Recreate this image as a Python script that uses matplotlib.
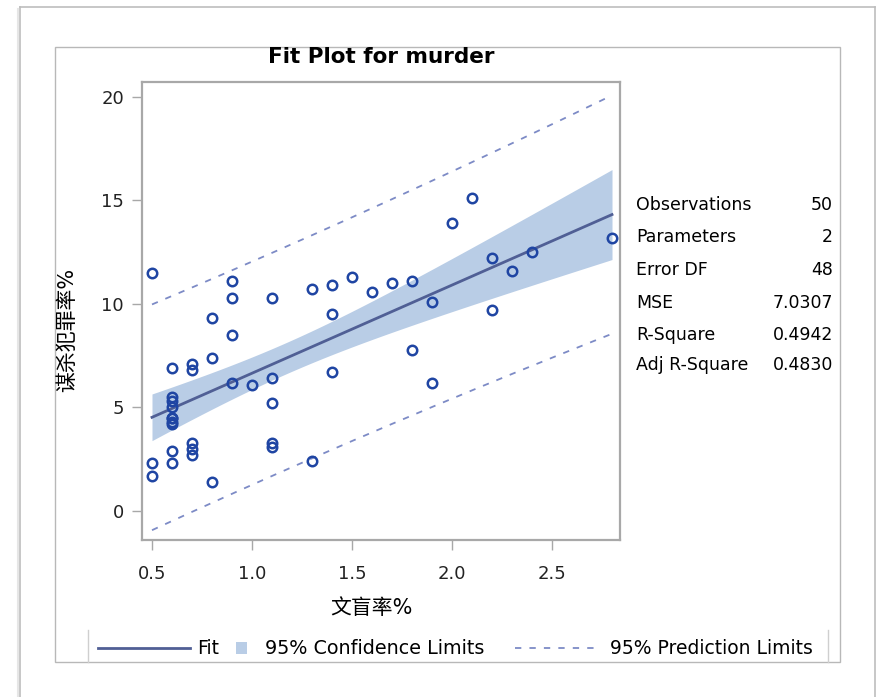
import numpy as np
import matplotlib
matplotlib.use("Agg")
import matplotlib.pyplot as plt
from matplotlib.lines import Line2D
from matplotlib.patches import Rectangle

plt.rcParams['font.family'] = ['DejaVu Sans', 'Noto Sans CJK SC']

# ---- data (state.x77: Illiteracy vs Murder) ----
illiteracy = [2.1, 1.5, 1.8, 1.9, 1.1, 0.7, 1.1, 0.9, 1.3, 2.0,
              1.9, 0.6, 0.9, 0.7, 0.5, 0.6, 1.6, 2.8, 0.7, 0.9,
              1.1, 0.9, 0.6, 2.4, 0.8, 0.6, 0.6, 0.5, 0.7, 1.1,
              2.2, 1.4, 1.8, 0.8, 0.8, 1.1, 0.6, 1.0, 1.3, 2.3,
              0.5, 1.7, 2.2, 0.6, 0.6, 1.4, 0.6, 1.4, 0.7, 0.6]
murder = [15.1, 11.3, 7.8, 10.1, 10.3, 6.8, 3.1, 6.2, 10.7, 13.9,
          6.2, 5.3, 10.3, 7.1, 2.3, 4.5, 10.6, 13.2, 2.7, 8.5,
          3.3, 11.1, 2.3, 12.5, 9.3, 5.0, 2.9, 11.5, 3.3, 5.2,
          9.7, 10.9, 11.1, 1.4, 7.4, 6.4, 4.2, 6.1, 2.4, 11.6,
          1.7, 11.0, 12.2, 4.5, 5.5, 9.5, 4.3, 6.7, 3.0, 6.9]

stat_names = ["Observations", "Parameters", "Error DF", "MSE", "R-Square", "Adj R-Square"]
stat_values = ["50", "2", "48", "7.0307", "0.4942", "0.4830"]

x_ticks = [0.5, 1.0, 1.5, 2.0, 2.5]
y_ticks = [0, 5, 10, 15, 20]

title = "Fit Plot for murder"
xlabel = "文盲率%"
ylabel = "谋杀犯罪率%"
legend_labels = ["Fit", "95% Confidence Limits", "95% Prediction Limits"]

T_CRIT = 2.0106  # t(0.975, 48)

# ---- colours ----
MARKER_C = '#1f45a3'
FIT_C = '#505f95'
CLM_C = '#b9cde6'
PRED_C = '#7d8bc6'
FRAME_C = '#a8a8a8'

W, H = 887, 697
fig = plt.figure(figsize=(W / 100, H / 100), dpi=100)

def fx(px):
    return px / W

def fy(py):
    return 1 - py / H

# outer frame (screenshot border) and inner box
fig.add_artist(Line2D([fx(20), fx(20)], [fy(7), 0], color='#bdbdbd', lw=1.2))
fig.add_artist(Line2D([fx(18), fx(18)], [fy(9), 0], color='#e6e6e6', lw=1.5))
fig.add_artist(Line2D([fx(875), fx(875)], [fy(7), 0], color='#bdbdbd', lw=1.2))
fig.add_artist(Line2D([fx(20), fx(875)], [fy(7), fy(7)], color='#bdbdbd', lw=1.2))
fig.add_artist(Rectangle((fx(55), fy(662)), fx(840) - fx(55), fy(47) - fy(662),
                         fill=False, edgecolor='#b8b8b8', lw=1.0, transform=fig.transFigure))
# legend borders
fig.add_artist(Line2D([fx(88), fx(88)], [fy(630), fy(662)], color='#cfcfcf', lw=1.0))
fig.add_artist(Line2D([fx(828), fx(828)], [fy(630), fy(662)], color='#cfcfcf', lw=1.0))

# ---- axes ----
ax = fig.add_axes([fx(142), fy(540), fx(620) - fx(142), fy(82) - fy(540)])
x = np.array(illiteracy)
y = np.array(murder)
n = len(x)
slope, intercept = np.polyfit(x, y, 1)
resid = y - (intercept + slope * x)
mse = np.sum(resid ** 2) / (n - 2)
s = np.sqrt(mse)
xbar = x.mean()
sxx = np.sum((x - xbar) ** 2)
xg = np.linspace(x.min(), x.max(), 200)
yg = intercept + slope * xg
se_mean = s * np.sqrt(1 / n + (xg - xbar) ** 2 / sxx)
se_pred = s * np.sqrt(1 + 1 / n + (xg - xbar) ** 2 / sxx)

ax.fill_between(xg, yg - T_CRIT * se_mean, yg + T_CRIT * se_mean, color=CLM_C, lw=0, zorder=1)
ax.plot(xg, yg, color=FIT_C, lw=2.0, zorder=3)
ax.plot(xg, yg - T_CRIT * se_pred, color=PRED_C, lw=1.3, ls=(0, (3.5, 4.5)), zorder=2)
ax.plot(xg, yg + T_CRIT * se_pred, color=PRED_C, lw=1.3, ls=(0, (3.5, 4.5)), zorder=2)
ax.plot(x, y, ls='none', marker='o', ms=6.8, mfc='none', mec=MARKER_C, mew=1.8, zorder=4)

ax.set_xlim(0.45, 2.84)
ax.set_ylim(-1.40, 20.72)
ax.set_xticks(x_ticks)
ax.set_yticks(y_ticks)
ax.set_xticklabels(["%.1f" % v for v in x_ticks])
ax.set_yticklabels([str(v) for v in y_ticks])
for sp in ax.spines.values():
    sp.set_color(FRAME_C)
    sp.set_linewidth(1.6)
ax.tick_params(axis='both', direction='out', length=7, width=1.0, color=FRAME_C,
               labelsize=13, labelcolor='#222222')
ax.tick_params(axis='x', pad=11)
ax.tick_params(axis='y', pad=6)

# titles and labels
fig.text(fx(381), fy(57), title, ha='center', va='center', fontsize=15.5, fontweight='bold')
fig.text(fx(371), fy(608), xlabel, ha='center', va='center', fontsize=15)
fig.text(fx(67), fy(330), ylabel, ha='center', va='center', fontsize=15, rotation=90)

# stats table
row_y = [205, 237, 270, 303, 335, 365]
for name, val, ry in zip(stat_names, stat_values, row_y):
    fig.text(fx(636), fy(ry), name, ha='left', va='center', fontsize=12.5)
    fig.text(fx(833), fy(ry), val, ha='right', va='center', fontsize=12.5)

# legend
ly = 648
fig.add_artist(Line2D([fx(98), fx(190)], [fy(ly), fy(ly)], color=FIT_C, lw=2.0))
fig.text(fx(197), fy(ly), legend_labels[0], ha='left', va='center', fontsize=13.5)
fig.add_artist(Rectangle((fx(236), fy(ly + 6)), fx(247) - fx(236), fy(ly - 6) - fy(ly + 6),
                         facecolor=CLM_C, edgecolor='none', transform=fig.transFigure))
fig.text(fx(265), fy(ly), legend_labels[1], ha='left', va='center', fontsize=13.8)
fig.add_artist(Line2D([fx(515), fx(598)], [fy(ly), fy(ly)], color=PRED_C, lw=1.3, ls=(0, (3.5, 4.5))))
fig.text(fx(610), fy(ly), legend_labels[2], ha='left', va='center', fontsize=13.5)

fig.savefig("out.png", dpi=100)
